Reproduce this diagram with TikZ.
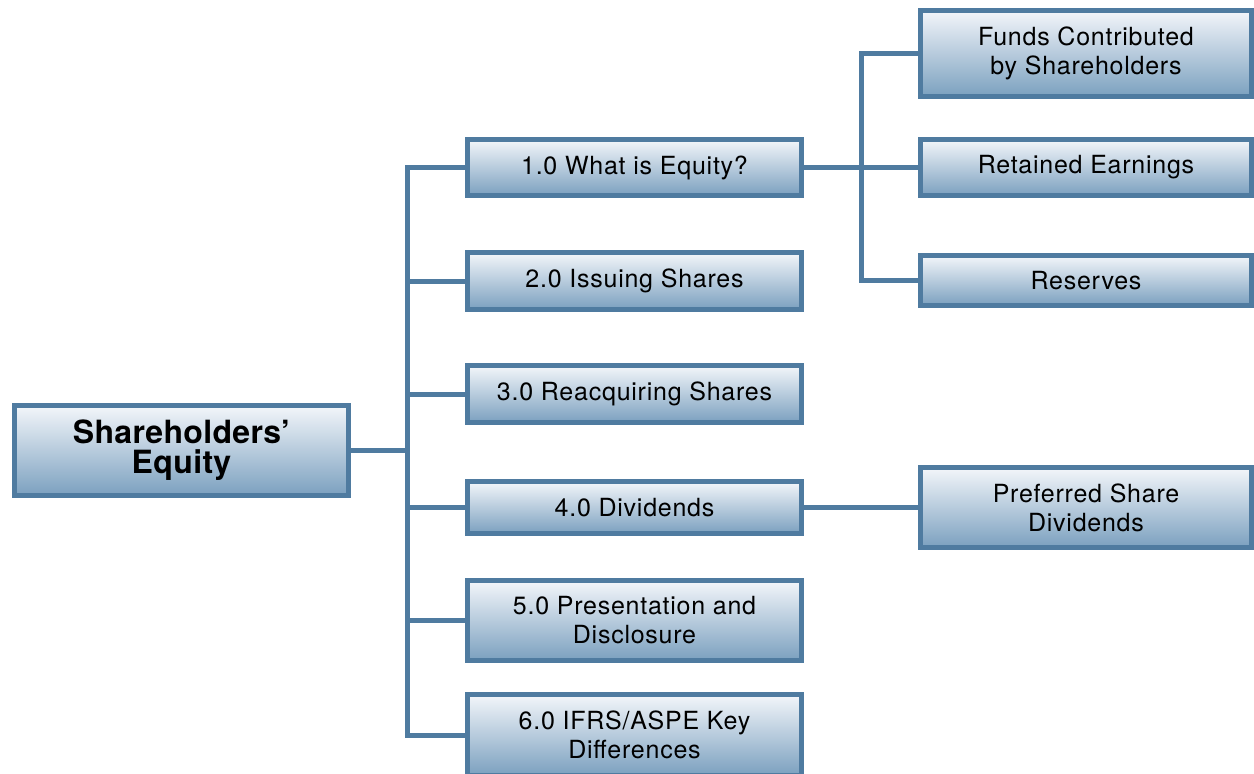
\documentclass[tikz,border=0pt]{standalone}
\usepackage{fontspec}
\setmainfont{TeX Gyre Heros}
\newfontfamily\boxfont[LetterSpace=3]{TeX Gyre Heros}
\newfontfamily\rootfont[LetterSpace=1]{TeX Gyre Heros}
\definecolor{bordc}{HTML}{4F7BA0}
\definecolor{topc}{HTML}{F3F6FA}
\definecolor{botc}{HTML}{7BA0BF}
\tikzset{
  boxstyle/.style={draw=bordc, line width=5pt, top color=topc, bottom color=botc,
    shading angle=0, align=center, inner sep=0pt, font=\boxfont\fontsize{25}{29}\selectfont,
    text=black, line join=miter},
  rootstyle/.style={boxstyle, font=\rootfont\fontsize{32}{30}\selectfont\bfseries},
  conn/.style={draw=bordc, line width=5pt, line join=miter}
}
\begin{document}
\begin{tikzpicture}[x=1pt,y=-1pt]
\useasboundingbox (0,0) rectangle (1254,774);
% root
\node[rootstyle, minimum width=334pt, minimum height=90pt] (root) at (181.5,450.5) {Shareholders’\\Equity};
% level 1
\node[boxstyle, minimum width=334pt, minimum height=56pt] (n1) at (634.5,167.5) {1.0 What is Equity?};
\node[boxstyle, minimum width=334pt, minimum height=57pt] (n2) at (634.5,281) {2.0 Issuing Shares};
\node[boxstyle, minimum width=334pt, minimum height=57pt] (n3) at (634.5,394) {3.0 Reacquiring Shares};
\node[boxstyle, minimum width=334pt, minimum height=52pt] (n4) at (634.5,507.5) {4.0 Dividends};
\node[boxstyle, minimum width=334pt, minimum height=80pt] (n5) at (634.5,620.5) {5.0 Presentation and\\Disclosure};
\node[boxstyle, minimum width=334pt, minimum height=81pt] (n6) at (634.5,735) {6.0 IFRS/ASPE Key\\Differences};
% level 2
\node[boxstyle, minimum width=331pt, minimum height=86pt] (a) at (1086,53.5) {Funds Contributed\\by Shareholders};
\node[boxstyle, minimum width=331pt, minimum height=56pt] (b) at (1086,167.5) {Retained Earnings};
\node[boxstyle, minimum width=331pt, minimum height=50pt] (c) at (1086,280.5) {Reserves};
\node[boxstyle, minimum width=331pt, minimum height=80pt] (d) at (1086,507.5) {Preferred Share\\Dividends};
% connectors
\coordinate (tr) at (407.5,450.5);
\coordinate (br) at (861,167.5);
\draw[conn] (root.east) -- (tr);
\draw[conn] (n1.west) -| (tr) |- (n6.west);
\draw[conn] (tr) |- (n2.west);
\draw[conn] (tr) |- (n3.west);
\draw[conn] (tr) |- (n4.west);
\draw[conn] (tr) |- (n5.west);
\draw[conn] (n1.east) -- (br);
\draw[conn] (a.west) -| (br) |- (c.west);
\draw[conn] (br) -- (b.west);
\draw[conn] (n4.east) -- (d.west);
\end{tikzpicture}
\end{document}
